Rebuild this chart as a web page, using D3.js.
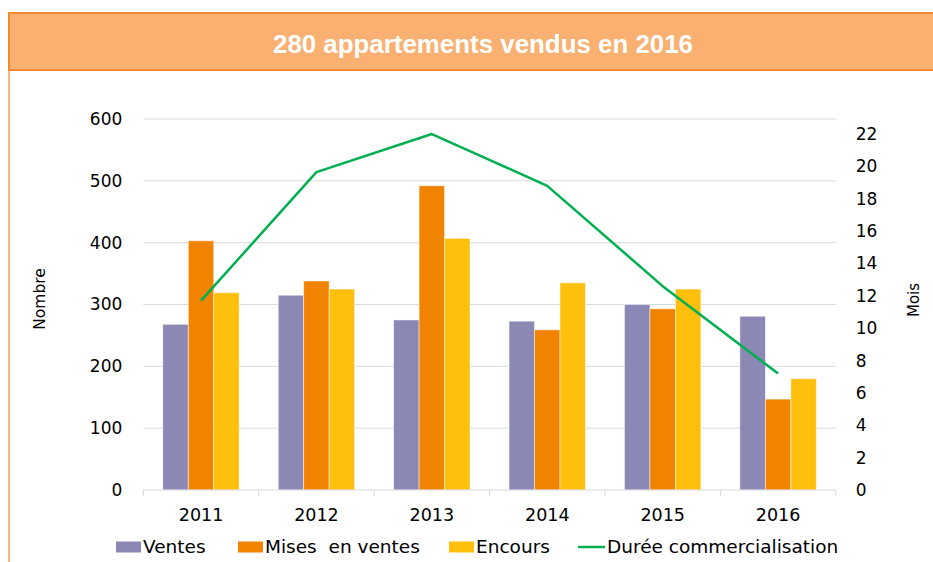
<!DOCTYPE html>
<html>
<head>
<meta charset="utf-8">
<script src="https://cdn.jsdelivr.net/npm/d3@7"></script>
<style>
    body { margin: 0; background: #fff; }
    svg { display: block; }
</style>
</head>
<body>
<div id="chart"></div>
<script>
'use strict';

// data
const years = ['2011', '2012', '2013', '2014', '2015', '2016'];
const ventes = [268, 315, 275, 273, 300, 281];
const misesEnVentes = [403, 338, 492, 259, 293, 147];
const encours = [319, 325, 407, 335, 325, 180];
const dureeMois = [11.7, 19.65, 22.0, 18.8, 12.6, 7.2];

const nombreTicks = [0, 100, 200, 300, 400, 500, 600];
const moisTicks = [0, 2, 4, 6, 8, 10, 12, 14, 16, 18, 20, 22];

const seriesNames = ['Ventes', 'Mises  en ventes', 'Encours'];
const seriesColours = ['#8C88B6', '#F08300', '#FFC00D'];
const lineName = 'Durée commercialisation';
const lineColour = '#00B050';

const width = 933;
const height = 562;
const plot = { left: 143.3, right: 835.8, top: 119, bottom: 490 };
const font = 'DejaVu Sans, sans-serif';

const svg = d3.select('#chart')
    .append('svg')
    .attr('width', width)
    .attr('height', height);

// frame + title bar
svg.append('line')
    .attr('x1', 9).attr('x2', 9)
    .attr('y1', 13).attr('y2', height)
    .attr('stroke', '#F0A060')
    .attr('stroke-width', 1.5);

svg.append('rect')
    .attr('x', 9).attr('y', 13)
    .attr('width', 940).attr('height', 57)
    .attr('fill', '#F9B071')
    .attr('stroke', '#F08A35')
    .attr('stroke-width', 2);

svg.append('text')
    .attr('x', 483)
    .attr('y', 53.3)
    .attr('text-anchor', 'middle')
    .attr('font-family', 'Liberation Sans, Arial, sans-serif')
    .attr('font-weight', 700)
    .attr('font-size', 26)
    .attr('textLength', 420)
    .attr('lengthAdjust', 'spacingAndGlyphs')
    .attr('fill', '#fff')
    .text('280 appartements vendus en 2016');

// scales
const x0 = d3.scaleBand()
    .domain(years)
    .range([plot.left, plot.right])
    .padding(0);

const groupWidth = x0.step() * 0.662;
const x1 = d3.scaleBand()
    .domain(seriesNames)
    .range([(x0.step() - groupWidth) / 2, (x0.step() + groupWidth) / 2])
    .padding(0);

const yLeft = d3.scaleLinear()
    .domain([0, 600])
    .range([plot.bottom, plot.top]);

const yRight = d3.scaleLinear()
    .domain([0, 22.93])
    .range([plot.bottom, plot.top]);

// gridlines
svg.append('g')
    .selectAll('line')
    .data(nombreTicks.filter(function (d) { return d > 0; }))
    .join('line')
    .attr('x1', plot.left)
    .attr('x2', plot.right)
    .attr('y1', function (d) { return yLeft(d); })
    .attr('y2', function (d) { return yLeft(d); })
    .attr('stroke', '#D9D9D9')
    .attr('stroke-width', 1);

// bars
const barData = years.map(function (year, i) {
    return {
        year: year,
        values: [ventes[i], misesEnVentes[i], encours[i]].map(function (v, j) {
            return { name: seriesNames[j], value: v, colour: seriesColours[j] };
        })
    };
});

svg.append('g')
    .selectAll('g')
    .data(barData)
    .join('g')
    .attr('transform', function (d) { return `translate(${x0(d.year)},0)`; })
    .selectAll('rect')
    .data(function (d) { return d.values; })
    .join('rect')
    .attr('x', function (d) { return x1(d.name); })
    .attr('width', x1.bandwidth())
    .attr('y', function (d) { return yLeft(d.value); })
    .attr('height', function (d) { return yLeft(0) - yLeft(d.value); })
    .attr('fill', function (d) { return d.colour; })
    .attr('stroke', 'rgba(255,255,255,0.6)')
    .attr('stroke-width', 0.8);

// bottom axis line + ticks between categories
svg.append('line')
    .attr('x1', plot.left).attr('x2', plot.right)
    .attr('y1', plot.bottom).attr('y2', plot.bottom)
    .attr('stroke', '#D9D9D9');

svg.append('g')
    .selectAll('line')
    .data(years.concat(['end']))
    .join('line')
    .attr('x1', function (d, i) { return plot.left + i * x0.step(); })
    .attr('x2', function (d, i) { return plot.left + i * x0.step(); })
    .attr('y1', plot.bottom)
    .attr('y2', plot.bottom + 6)
    .attr('stroke', '#D9D9D9');

const xAxis = d3.axisBottom(x0).tickSize(0).tickPadding(18.6);
const xAxisG = svg.append('g')
    .attr('transform', `translate(0,${plot.bottom})`)
    .call(xAxis);
xAxisG.select('.domain').remove();
xAxisG.selectAll('text')
    .attr('font-family', font)
    .attr('font-size', 17.5)
    .attr('fill', '#000');

// left axis
const leftAxisG = svg.append('g')
    .attr('transform', `translate(${plot.left},0)`)
    .call(d3.axisLeft(yLeft).tickValues(nombreTicks).tickSize(0).tickPadding(21));
leftAxisG.select('.domain').remove();
leftAxisG.selectAll('text')
    .attr('font-family', font)
    .attr('font-size', 17)
    .attr('fill', '#000');

// right axis
const rightAxisG = svg.append('g')
    .attr('transform', `translate(${plot.right},0)`)
    .call(d3.axisRight(yRight).tickValues(moisTicks).tickSize(0).tickPadding(20));
rightAxisG.select('.domain').remove();
rightAxisG.selectAll('text')
    .attr('font-family', font)
    .attr('font-size', 17)
    .attr('fill', '#000');

// axis titles
svg.append('text')
    .attr('transform', 'translate(45,299) rotate(-90)')
    .attr('text-anchor', 'middle')
    .attr('font-family', font)
    .attr('font-size', 15.5)
    .attr('fill', '#000')
    .text('Nombre');

svg.append('text')
    .attr('transform', 'translate(919,300) rotate(-90)')
    .attr('text-anchor', 'middle')
    .attr('font-family', font)
    .attr('font-size', 15)
    .attr('fill', '#000')
    .text('Mois');

// line
const lineGen = d3.line()
    .x(function (d) { return x0(d.year) + x0.step() / 2; })
    .y(function (d) { return yRight(d.value); });

svg.append('path')
    .datum(years.map(function (year, i) { return { year: year, value: dureeMois[i] }; }))
    .attr('fill', 'none')
    .attr('stroke', lineColour)
    .attr('stroke-width', 2.5)
    .attr('stroke-linejoin', 'round')
    .attr('d', lineGen);

// legend
const legendItems = [
    { name: seriesNames[0], colour: seriesColours[0], type: 'rect', x: 116 },
    { name: seriesNames[1], colour: seriesColours[1], type: 'rect', x: 238 },
    { name: seriesNames[2], colour: seriesColours[2], type: 'rect', x: 449 },
    { name: lineName, colour: lineColour, type: 'line', x: 578 }
];

const legend = svg.append('g')
    .selectAll('g')
    .data(legendItems)
    .join('g')
    .attr('transform', function (d) { return `translate(${d.x},547)`; });

legend.filter(function (d) { return d.type === 'rect'; })
    .append('rect')
    .attr('x', 0).attr('y', -5.5)
    .attr('width', 25).attr('height', 11)
    .attr('fill', function (d) { return d.colour; });

legend.filter(function (d) { return d.type === 'line'; })
    .append('line')
    .attr('x1', 0).attr('x2', 27)
    .attr('y1', 0).attr('y2', 0)
    .attr('stroke', function (d) { return d.colour; })
    .attr('stroke-width', 2.5);

legend.append('text')
    .attr('x', function (d) { return d.type === 'rect' ? 27 : 29; })
    .attr('y', 5.8)
    .attr('font-family', font)
    .attr('font-size', 18.5)
    .attr('fill', '#000')
    .attr('xml:space', 'preserve')
    .style('white-space', 'pre')
    .text(function (d) { return d.name; });
</script>
</body>
</html>
